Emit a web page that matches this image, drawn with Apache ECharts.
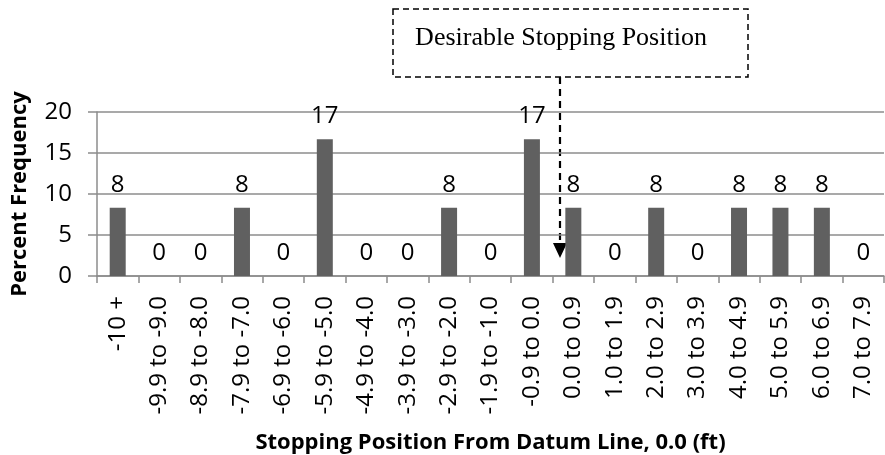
<!DOCTYPE html>
<html><head><meta charset="utf-8">
<script src="https://cdn.jsdelivr.net/npm/echarts@6/dist/echarts.min.js"></script>
<style>html,body{margin:0;padding:0;background:#fff}#c{width:885px;height:455px}</style>
</head><body><div id="c"></div>
<script>
const categories = ["-10 +","-9.9 to -9.0","-8.9 to -8.0","-7.9 to -7.0","-6.9 to -6.0","-5.9 to -5.0","-4.9 to -4.0","-3.9 to -3.0","-2.9 to -2.0","-1.9 to -1.0","-0.9 to 0.0","0.0 to 0.9","1.0 to 1.9","2.0 to 2.9","3.0 to 3.9","4.0 to 4.9","5.0 to 5.9","6.0 to 6.9","7.0 to 7.9"];
const percentFrequency = [8.33,0,0,8.33,0,16.67,0,0,8.33,0,16.67,8.33,0,8.33,0,8.33,8.33,8.33,0];
const yTicks = [0,5,10,15,20];
const annotationText = "Desirable Stopping Position";

const font = "'Open Sans', sans-serif";
const chart = echarts.init(document.getElementById('c'), null, {renderer:'canvas'});
chart.setOption({
  animation:false,
  grid:{left:97,right:1,top:112,bottom:179,containLabel:false},
  xAxis:{
    type:'category', data:categories,
    axisLine:{lineStyle:{color:'#8c8c8c',width:1.5}},
    axisTick:{show:true,length:7,lineStyle:{color:'#8c8c8c',width:1.5}},
    axisLabel:{rotate:90,margin:20,color:'#000',fontFamily:font,fontSize:24,interval:0},
    name:'Stopping Position From Datum Line, 0.0 (ft)',
    nameLocation:'middle',nameGap:156,
    nameTextStyle:{fontFamily:font,fontWeight:'bold',fontSize:22,color:'#000'}
  },
  yAxis:{
    type:'value',min:yTicks[0],max:yTicks[yTicks.length-1],interval:5,
    axisLine:{show:true,lineStyle:{color:'#8c8c8c',width:1.5}},
    axisTick:{show:true,length:9,lineStyle:{color:'#8c8c8c',width:1.5}},
    splitLine:{lineStyle:{color:'#8c8c8c',width:1.5}},
    axisLabel:{margin:25,color:'#000',fontFamily:font,fontSize:24},
    name:'Percent Frequency',nameLocation:'middle',nameRotate:90,nameGap:66,
    nameTextStyle:{fontFamily:font,fontWeight:'bold',fontSize:22,color:'#000'}
  },
  series:[{
    type:'bar',data:percentFrequency,barWidth:16,
    itemStyle:{color:'#606060'},
    label:{show:true,position:'top',distance:11,color:'#000',fontFamily:font,fontSize:24,
      formatter:p=>Math.round(p.value)}
  }],
  graphic:[
    {type:'rect',shape:{x:393,y:9,width:355,height:68},
     style:{fill:'#fff',stroke:'#000',lineWidth:1.5,lineDash:[6,4]}},
    {type:'text',style:{x:561,y:38,text:annotationText,align:'center',verticalAlign:'middle',
      font:"26px 'Liberation Serif', 'Times New Roman', serif",fill:'#000'}},
    {type:'line',shape:{x1:560,y1:77,x2:560,y2:245},
     style:{stroke:'#000',lineWidth:2.2,lineDash:[7,5]}},
    {type:'polygon',shape:{points:[[553,243],[567,243],[560,258]]},style:{fill:'#000'}}
  ]
});
</script></body></html>
